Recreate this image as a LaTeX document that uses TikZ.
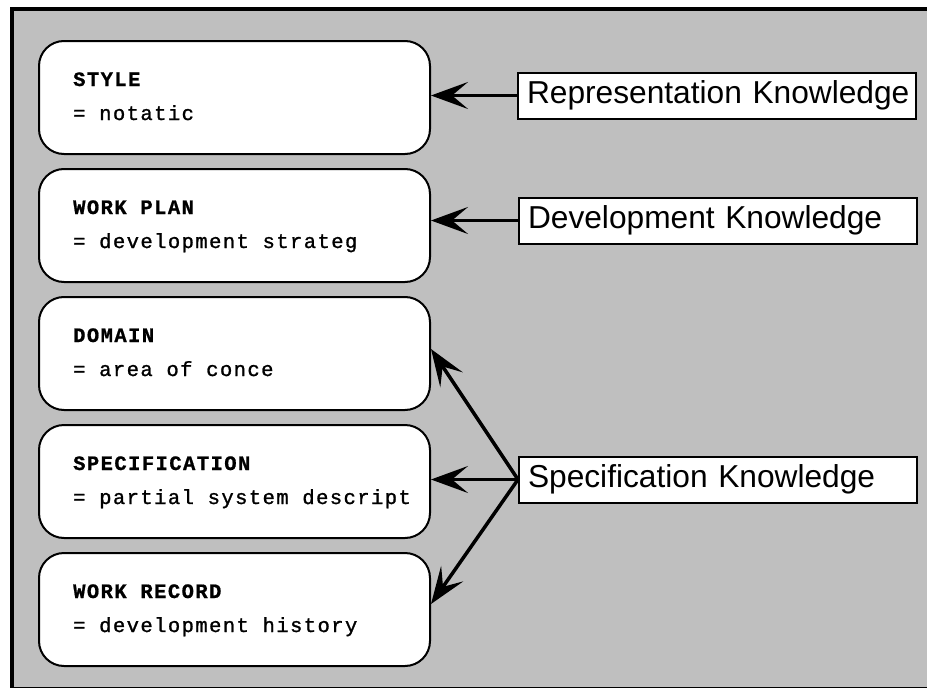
\documentclass[tikz,border=0pt]{standalone}
\usepackage{fontspec}
\setmainfont{Liberation Sans}
\newfontfamily\monofont[FakeBold=0.8,LetterSpace=7]{Liberation Mono}
\newfontfamily\descfont[FakeBold=1.2,LetterSpace=7]{Liberation Mono}
\usetikzlibrary{arrows.meta}
\definecolor{panelgray}{RGB}{191,191,191}
\begin{document}
\begin{tikzpicture}[x=1pt,y=-1pt,
  card/.style={draw=black, line width=2pt, fill=white, rounded corners=25pt,
    minimum width=391pt, minimum height=113pt, inner sep=0pt, anchor=north west},
  ttl/.style={anchor=base west, inner sep=0pt, font=\monofont\bfseries\fontsize{20.5}{20.5}\selectfont},
  desc/.style={anchor=base west, inner sep=0pt, font=\descfont\fontsize{20.5}{20.5}\selectfont},
  lbl/.style={draw=black, line width=2pt, fill=white, anchor=west, minimum height=46pt,
    text width=380pt, inner xsep=9pt, inner ysep=0pt, align=left,
    font=\fontsize{31.7}{33}\selectfont},
  arr/.style={line width=3.5pt, -{Stealth[length=37pt,width=27pt,inset=16pt]}}
]
\useasboundingbox (0,0) rectangle (927,688);
\draw[line width=4pt, fill=panelgray] (12,9) rectangle (935,689);

\node[card] (style) at (38,40) {};
\node[card] (plan) at (38,168) {};
\node[card] (domain) at (38,296) {};
\node[card] (spec) at (38,424) {};
\node[card] (record) at (38,552) {};

\node[ttl] (t1) at (73,86) {STYLE};
\node[desc] (d1) at (73,120) {= notatic};
\node[ttl] (t2) at (73,214) {WORK PLAN};
\node[desc] (d2) at (73,248) {= development strateg};
\node[ttl] (t3) at (73,342) {DOMAIN};
\node[desc] (d3) at (73,376) {= area of conce};
\node[ttl] (t4) at (73,470) {SPECIFICATION};
\node[desc] (d4) at (73,504) {= partial system descript};
\node[ttl] (t5) at (73,598) {WORK RECORD};
\node[desc] (d5) at (73,632) {= development history};

\node[lbl] (rep) at (517,95.5) {\mbox{Representation Knowledge}};
\node[lbl] (dev) at (518,220.5) {\mbox{Development Knowledge}};
\node[lbl] (spk) at (518,479.5) {\mbox{Specification Knowledge}};

\draw[arr] (rep.west) -- (style.east |- rep.west);
\draw[arr] (dev.west) -- (plan.east |- dev.west);
\draw[arr] (spk.west) -- (spec.east |- spk.west);
\draw[arr] (spk.west) -- ([yshift=4.5pt]domain.east);
\draw[arr] (spk.west) -- ([yshift=5.5pt]record.east);
\end{tikzpicture}
\end{document}
